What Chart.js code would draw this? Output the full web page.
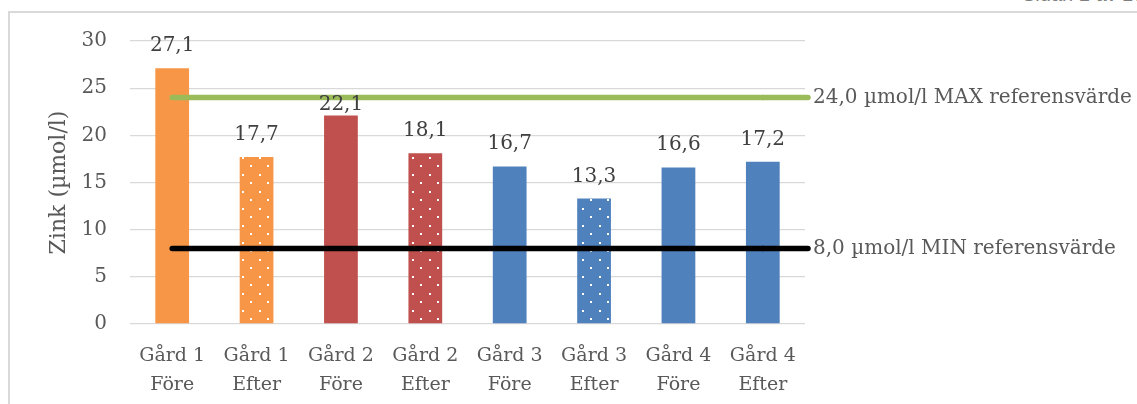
<!DOCTYPE html>
<html>
<head>
<meta charset="utf-8">
<script src="https://cdn.jsdelivr.net/npm/chart.js@4"></script>
<style>
  body { margin: 0; background: #fff; overflow: hidden; }
  #frame { position: absolute; left: 8px; top: 11px; width: 1200px; height: 500px;
           border-left: 2px solid #d9d9d9; border-top: 2px solid #d9d9d9; }
  #pagenr { position: absolute; left: 1022px; top: -16px; font: 20px "Liberation Sans";
            line-height: 20px; color: #7f7f7f; white-space: nowrap; }
  #zinkChart { position: absolute; left: 0; top: 0; }
</style>
</head>
<body>
<div id="frame"></div>
<div id="pagenr">Sidan 1 av 10</div>
<canvas id="zinkChart" width="1137" height="404"></canvas>
<script>
// zink i blodet per gård, före och efter

const gardLabels = [
  ["Gård 1", "Före"], ["Gård 1", "Efter"],
  ["Gård 2", "Före"], ["Gård 2", "Efter"],
  ["Gård 3", "Före"], ["Gård 3", "Efter"],
  ["Gård 4", "Före"], ["Gård 4", "Efter"]
];
const zinkValues = [27.1, 17.7, 22.1, 18.1, 16.7, 13.3, 16.6, 17.2];
const maxRef = [24, 24, 24, 24, 24, 24, 24, 24];
const minRef = [8, 8, 8, 8, 8, 8, 8, 8];

const gardColors = ["#F79646", "#F79646", "#C0504D", "#C0504D", "#4F81BD", "#4F81BD", "#4F81BD", "#4F81BD"];
const dotted = [false, true, false, true, false, true, false, false];

const serif = "DejaVu Serif";
const fmt = v => v.toFixed(1).replace(".", ",");

// white dot pattern for the "Efter" bars
function dots(color) {
  const c = document.createElement("canvas");
  c.width = 17; c.height = 17;
  const g = c.getContext("2d");
  g.fillStyle = color;
  g.fillRect(0, 0, 17, 17);
  g.fillStyle = "#fff";
  g.fillRect(4, 4, 2, 2);
  g.fillRect(12, 12, 2, 2);
  return g.createPattern(c, "repeat");
}

const barFills = gardColors.map((c, i) => dotted[i] ? dots(c) : c);

// 22,1 was pulled down onto the MAX line
const labelDrop = {2: 11};

const labelsPlugin = {
  id: "labels",
  afterDatasetsDraw(chart) {
    const ctx = chart.ctx;
    ctx.save();

    // value above each bar
    ctx.font = "20px " + serif;
    ctx.fillStyle = "#404040";
    ctx.textAlign = "center";
    ctx.textBaseline = "alphabetic";
    chart.getDatasetMeta(0).data.forEach((bar, i) => {
      ctx.fillText(fmt(zinkValues[i]), bar.x, bar.y - 17 + (labelDrop[i] || 0));
    });

    // reference line labels, with a short leader line
    const right = chart.chartArea.right;
    [1, 2].forEach(di => {
      const ds = chart.data.datasets[di];
      const pts = chart.getDatasetMeta(di).data;
      const last = pts[pts.length - 1];
      ctx.strokeStyle = ds.borderColor;
      ctx.lineWidth = ds.borderWidth;
      ctx.lineCap = "round";
      ctx.beginPath();
      ctx.moveTo(last.x, last.y);
      ctx.lineTo(right + 3, last.y);
      ctx.stroke();
      ctx.fillStyle = "#595959";
      ctx.textAlign = "left";
      ctx.textBaseline = "middle";
      ctx.fillText(fmt(ds.data[ds.data.length - 1]) + " µmol/l " + ds.label + " referensvärde", right + 8, last.y);
    });
    ctx.restore();
  }
};

new Chart("zinkChart", {
  type: "bar",
  data: {
    labels: gardLabels,
    datasets: [{
      type: "bar",
      label: "Zink",
      data: zinkValues,
      backgroundColor: barFills,
      barPercentage: 0.4,
      categoryPercentage: 1,
      order: 3
    }, {
      type: "line",
      label: "MAX",
      data: maxRef,
      borderColor: "#9BBB59",
      borderWidth: 5.5,
      borderCapStyle: "round",
      pointRadius: 0,
      fill: false,
      order: 2
    }, {
      type: "line",
      label: "MIN",
      data: minRef,
      borderColor: "#000000",
      borderWidth: 5.5,
      borderCapStyle: "round",
      pointRadius: 0,
      fill: false,
      order: 1
    }]
  },
  options: {
    responsive: false,
    animation: false,
    layout: { padding: { left: 0, top: 41, right: 332, bottom: 0 } },
    plugins: {
      legend: { display: false },
      tooltip: { enabled: false }
    },
    scales: {
      x: {
        grid: { display: false, drawTicks: false },
        border: { display: false },
        ticks: {
          color: "#595959",
          font: { family: serif, size: 19, lineHeight: 1.5 },
          padding: 18,
          maxRotation: 0,
          autoSkip: false
        },
        afterFit(s) { s.height = 80; }
      },
      y: {
        min: 0,
        max: 30,
        ticks: { stepSize: 5, color: "#595959", font: { family: serif, size: 20 }, padding: 23 },
        grid: { color: "#d9d9d9", lineWidth: 1.3, drawTicks: false },
        border: { display: false },
        title: {
          display: true,
          text: "Zink (µmol/l)",
          color: "#595959",
          font: { family: serif, size: 22 },
          padding: { top: 46, bottom: 0 }
        },
        afterFit(s) { s.width = 130; }
      }
    }
  },
  plugins: [labelsPlugin]
});
</script>
</body>
</html>
